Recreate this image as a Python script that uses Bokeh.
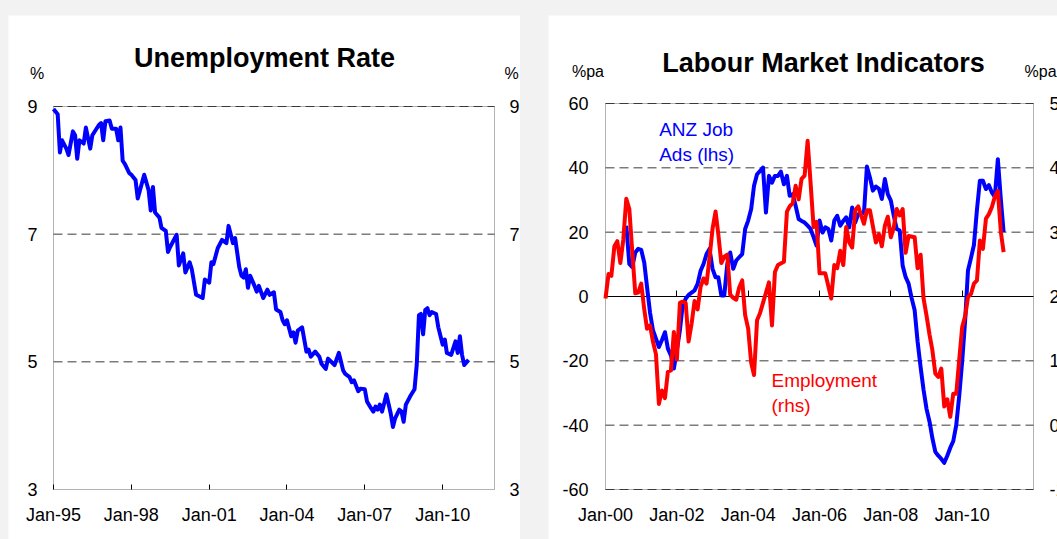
import pandas as pd
from bokeh.plotting import figure
from bokeh.layouts import row
from bokeh.models import (LinearAxis, DatetimeAxis, Range1d, FixedTicker, Label, BoxAnnotation,
                          DatetimeTickFormatter, CustomJSTickFormatter, ColumnDataSource)
from bokeh.embed import file_html
from bokeh.resources import INLINE

# ---------------- data ----------------
unemp_dates = [
    "1995-01", "1995-03", "1995-04", "1995-05", "1995-07", "1995-08", "1995-10", "1995-11", "1995-12",
    "1996-01", "1996-03", "1996-04", "1996-06", "1996-07", "1996-10", "1996-11", "1996-12",
    "1997-01", "1997-03", "1997-04", "1997-06", "1997-07", "1997-08", "1997-09", "1997-10", "1997-12",
    "1998-01", "1998-03", "1998-04", "1998-07", "1998-09", "1998-10", "1998-11", "1998-12",
    "1999-02", "1999-03", "1999-05", "1999-06", "1999-07", "1999-10", "1999-11",
    "2000-01", "2000-02", "2000-04", "2000-05", "2000-07", "2000-10", "2000-11",
    "2001-01", "2001-02", "2001-03", "2001-05", "2001-07", "2001-09", "2001-10", "2001-12",
    "2002-01", "2002-03", "2002-04", "2002-05", "2002-06", "2002-07", "2002-08", "2002-10", "2002-11", "2002-12",
    "2003-02", "2003-04", "2003-05", "2003-07", "2003-08", "2003-10", "2003-11", "2003-12",
    "2004-01", "2004-03", "2004-04", "2004-05", "2004-06", "2004-08", "2004-10", "2004-11", "2004-12",
    "2005-02", "2005-04", "2005-05", "2005-07", "2005-08", "2005-11",
    "2006-01", "2006-03", "2006-04", "2006-06", "2006-07", "2006-08", "2006-10", "2006-11",
    "2007-01", "2007-02", "2007-04", "2007-05", "2007-06", "2007-07", "2007-08", "2007-09", "2007-11",
    "2008-01", "2008-02", "2008-03", "2008-05", "2008-06", "2008-07", "2008-08", "2008-10", "2008-12",
    "2009-01", "2009-02", "2009-03", "2009-04", "2009-05", "2009-06", "2009-07", "2009-08", "2009-10", "2009-11",
    "2010-01", "2010-02", "2010-03", "2010-05", "2010-07", "2010-08", "2010-09", "2010-10", "2010-11",
    "2011-01",
]
unemp_rate = [
    8.96, 8.88, 8.28, 8.47, 8.34, 8.24, 8.61, 8.55, 8.18,
    8.47, 8.42, 8.67, 8.34, 8.55, 8.71, 8.74, 8.47,
    8.77, 8.78, 8.65, 8.65, 8.47, 8.67, 8.15, 8.10, 7.96,
    7.93, 7.85, 7.56, 7.93, 7.69, 7.37, 7.74, 7.34,
    7.26, 7.10, 7.05, 6.72, 6.80, 6.99, 6.51,
    6.70, 6.40, 6.56, 6.45, 6.05, 6.00, 6.29,
    6.24, 6.56, 6.53, 6.78, 6.91, 6.86, 7.13, 6.86,
    6.94, 6.48, 6.35, 6.32, 6.45, 6.16, 6.35, 6.19, 6.10, 6.19,
    6.00, 6.13, 6.05, 6.09, 5.82, 5.78, 5.65, 5.59,
    5.65, 5.40, 5.46, 5.30, 5.49, 5.54, 5.16, 5.19, 5.08,
    5.16, 5.08, 4.97, 4.89, 5.05, 4.95,
    5.14, 4.87, 4.81, 4.76, 4.68, 4.71, 4.54, 4.58,
    4.57, 4.38, 4.27, 4.22, 4.30, 4.25, 4.33, 4.22, 4.49,
    4.19, 3.98, 4.11, 4.25, 4.22, 4.06, 4.33, 4.46, 4.57,
    4.95, 5.73, 5.75, 5.43, 5.81, 5.84, 5.73, 5.78, 5.75, 5.54,
    5.27, 5.35, 5.14, 5.11, 5.32, 5.14, 5.40, 5.11, 4.95,
    5.03,
]

ads_dates = [
    "2000-08", "2000-09", "2000-10", "2000-11", "2000-12",
    "2001-01", "2001-02", "2001-03", "2001-04", "2001-05", "2001-06", "2001-07", "2001-08", "2001-09", "2001-10", "2001-11", "2001-12",
    "2002-01", "2002-02", "2002-03", "2002-04", "2002-05", "2002-06", "2002-07", "2002-08", "2002-09", "2002-10", "2002-11", "2002-12",
    "2003-01", "2003-02", "2003-03", "2003-04", "2003-05", "2003-06", "2003-07", "2003-08", "2003-09", "2003-10", "2003-11", "2003-12",
    "2004-01", "2004-02", "2004-03", "2004-04", "2004-05", "2004-06", "2004-07", "2004-08", "2004-09", "2004-10", "2004-11", "2004-12",
    "2005-01", "2005-02", "2005-03", "2005-04", "2005-05", "2005-06", "2005-07", "2005-08", "2005-09", "2005-10", "2005-11", "2005-12",
    "2006-01", "2006-02", "2006-03", "2006-04", "2006-05", "2006-06", "2006-07", "2006-08", "2006-09", "2006-10", "2006-11", "2006-12",
    "2007-01", "2007-02", "2007-03", "2007-04", "2007-05", "2007-06", "2007-07", "2007-08", "2007-09", "2007-10", "2007-11", "2007-12",
    "2008-01", "2008-02", "2008-03", "2008-04", "2008-05", "2008-06", "2008-07", "2008-08", "2008-09", "2008-10", "2008-11", "2008-12",
    "2009-01", "2009-02", "2009-03", "2009-04", "2009-05", "2009-06", "2009-07", "2009-08", "2009-09", "2009-10", "2009-11", "2009-12",
    "2010-01", "2010-02", "2010-03", "2010-04", "2010-05", "2010-06", "2010-07", "2010-08", "2010-09", "2010-10", "2010-11", "2010-12",
    "2011-01", "2011-02", "2011-03",
]
ads_growth = [
    22.0, 10.1, 9.1, 13.7, 14.8,
    14.5, 10.5, 3.0, -5.0, -10.5, -13.1, -15.7, -13.5, -11.1, -16.2, -18.3, -22.4,
    -16.7, -10.5, -2.8, -0.7, 0.5, 1.2, 1.9, 3.9, 8.0, 10.1, 13.2, 14.8,
    8.6, 6.0, 6.0, 0.3, 0.3, 10.0, 13.7, 8.6, 11.2, 12.2, 13.2, 21.0,
    23.6, 27.2, 34.4, 38.0, 39.0, 40.1, 26.1, 37.5, 35.4, 37.5, 37.5, 38.8,
    34.9, 37.5, 31.3, 31.8, 28.2, 24.1, 23.5, 23.0, 22.0, 21.0, 18.5, 15.8,
    23.6, 19.9, 21.5, 21.0, 17.4, 23.6, 25.1, 22.0, 23.5, 24.6, 21.5, 27.7,
    23.0, 25.6, 25.6, 26.0, 40.4, 37.0, 32.9, 34.2, 33.5, 30.3, 36.5, 31.8,
    29.8, 25.0, 21.0, 20.5, 9.6, 6.0, 4.0, -0.5, -4.3, -14.0, -22.0, -29.0,
    -35.0, -39.0, -44.0, -48.3, -49.5, -50.5, -51.7, -49.5, -47.0, -45.0, -40.0, -31.0,
    -20.0, -7.0, 8.1, 12.0, 16.0, 27.0, 36.0, 36.0, 33.4, 34.6, 32.3, 31.0,
    42.7, 30.0, 20.0,
]

emp_dates = [
    "2000-01", "2000-02", "2000-03", "2000-04", "2000-05", "2000-06", "2000-07", "2000-08", "2000-09", "2000-10", "2000-11", "2000-12",
    "2001-01", "2001-02", "2001-03", "2001-04", "2001-05", "2001-06", "2001-07", "2001-08", "2001-09", "2001-10", "2001-11", "2001-12",
    "2002-01", "2002-02", "2002-03", "2002-04", "2002-05", "2002-06", "2002-07", "2002-08", "2002-09", "2002-10", "2002-11", "2002-12",
    "2003-01", "2003-02", "2003-03", "2003-04", "2003-05", "2003-06", "2003-07", "2003-08", "2003-09", "2003-10", "2003-11", "2003-12",
    "2004-01", "2004-02", "2004-03", "2004-04", "2004-05", "2004-06", "2004-08", "2004-09", "2004-10", "2004-11",
    "2005-01", "2005-02", "2005-03", "2005-04", "2005-05", "2005-06", "2005-07", "2005-08", "2005-09", "2005-10", "2005-11", "2005-12",
    "2006-01", "2006-03", "2006-05", "2006-06", "2006-07", "2006-08", "2006-09", "2006-10", "2006-11", "2006-12",
    "2007-01", "2007-02", "2007-04", "2007-05", "2007-06", "2007-08", "2007-09", "2007-10", "2007-11", "2007-12",
    "2008-01", "2008-02", "2008-03", "2008-04", "2008-05", "2008-06", "2008-07", "2008-09", "2008-10", "2008-11", "2008-12",
    "2009-01", "2009-02", "2009-03", "2009-04", "2009-05", "2009-06", "2009-07", "2009-08", "2009-09", "2009-10", "2009-11", "2009-12",
    "2010-01", "2010-02", "2010-03", "2010-04", "2010-05", "2010-06", "2010-07", "2010-08", "2010-09", "2010-10", "2010-11", "2010-12",
    "2011-01", "2011-02", "2011-03",
]
emp_growth = [
    1.97, 2.35, 2.32, 2.78, 2.86, 2.52, 2.88, 3.52, 3.36, 2.70, 2.05, 2.06,
    2.20, 1.80, 1.50, 1.55, 1.30, 1.10, 0.33, 0.54, 0.42, 0.83, 0.85, 1.45,
    1.02, 1.90, 1.92, 1.90, 1.30, 1.58, 1.93, 1.80, 2.15, 2.28, 2.20, 2.60,
    3.05, 3.32, 2.97, 2.52, 2.62, 2.65, 2.03, 1.98, 1.95, 2.14, 2.25, 1.71,
    1.50, 0.97, 0.78, 1.63, 1.74, 1.90, 2.22, 1.55, 2.38, 2.49,
    2.54, 3.32, 3.40, 3.45, 3.72, 3.51, 3.83, 3.88, 4.42, 3.77, 3.08, 3.16,
    2.36, 2.36, 1.97, 2.49, 2.44, 2.71, 2.49, 3.08, 2.84, 2.76,
    3.34, 3.40, 3.13, 3.34, 3.34, 2.84, 2.97, 2.78, 3.10, 3.24,
    2.92, 3.08, 3.36, 3.26, 3.36, 2.68, 2.94, 2.92, 2.44, 2.65, 1.97,
    1.70, 1.40, 1.17, 0.80, 0.75, 0.88, 0.29, 0.40, 0.13, 0.49, 0.49, 1.01,
    1.53, 1.70, 1.99, 2.04, 2.20, 2.25, 2.87, 2.74, 3.21, 3.28, 3.39, 3.55,
    3.64, 3.00, 2.69,
]

left_x_ticks = ["1995-01", "1998-01", "2001-01", "2004-01", "2007-01", "2010-01"]
right_x_ticks = ["2000-01", "2002-01", "2004-01", "2006-01", "2008-01", "2010-01"]
unemp_y_ticks = [3, 5, 7, 9]
lhs_ticks = [-60, -40, -20, 0, 20, 40, 60]
rhs_ticks = [-1, 0, 1, 2, 3, 4, 5]

# ---------------- styling helpers ----------------
FONT = "Liberation Sans"
BLUE = "#0000ff"
RED = "#ff0000"
GRID = "#3a3a3a"
LW = 4


def ms(s):
    return pd.Timestamp(s).timestamp() * 1000.0


def date_fmt():
    f = "%b-%y"
    return DatetimeTickFormatter(microseconds=f, milliseconds=f, seconds=f, minsec=f,
                                 minutes=f, hourmin=f, hours=f, days=f, months=f, years=f)


def int_fmt():
    return CustomJSTickFormatter(code="return tick.toFixed(0)")


def style_axis(ax, standoff, tick_in=0):
    ax.major_label_text_font = FONT
    ax.major_label_text_font_size = "18px"
    ax.major_label_text_color = "black"
    ax.major_label_standoff = standoff
    ax.minor_tick_line_color = None
    ax.major_tick_out = 0
    ax.major_tick_in = tick_in
    ax.major_tick_line_color = "black" if tick_in else None
    ax.axis_line_color = None


class Panel:
    """Maps pixel positions inside a figure whose frame fills the whole canvas."""

    def __init__(self, W, H, box_l, box_t, box_w, box_h, x0, x1, y0, y1):
        self.W, self.H = W, H
        self.px_x = (x1 - x0) / box_w
        self.px_y = (y1 - y0) / box_h
        self.xr = (x0 - box_l * self.px_x, x0 + (W - box_l) * self.px_x)
        self.yr = (y1 - (H - box_t) * self.px_y, y1 + box_t * self.px_y)
        self.box_t, self.box_h = box_t, box_h

    def yrange_for(self, v0, v1):
        per = (v1 - v0) / self.box_h
        return (v1 - (self.H - self.box_t) * per, v1 + self.box_t * per)

    def x(self, fx):
        return self.xr[0] + fx * self.px_x

    def y(self, fy):
        return self.yr[1] - fy * self.px_y


def make_fig(pn):
    p = figure(width=pn.W, height=pn.H, frame_width=pn.W, frame_height=pn.H,
               min_border=0, x_axis_type="datetime",
               x_range=Range1d(*pn.xr), y_range=Range1d(*pn.yr),
               x_axis_location=None, y_axis_location=None,
               output_backend="svg", toolbar_location=None,
               background_fill_color="white", border_fill_color="white",
               outline_line_color=None)
    p.xgrid.visible = False
    p.ygrid.visible = False
    return p


def add_text(p, pn, text, fx, fy, size, color="black", bold=False, align="left"):
    # fy is the vertical middle of the text, in pixels from the figure top
    p.add_layout(Label(x=pn.x(fx), y=pn.y(fy), text=text,
                       text_font=FONT, text_font_size=size, text_color=color,
                       text_font_style="bold" if bold else "normal",
                       text_align=align, text_baseline="middle"))


# ---------------- left panel ----------------
L0, L1 = ms("1995-01-01"), ms("2012-01-01")
pl = Panel(W=512, H=524, box_l=45, box_t=91, box_w=441, box_h=383,
           x0=L0, x1=L1, y0=unemp_y_ticks[0], y1=unemp_y_ticks[-1])
p1 = make_fig(pl)
p1.margin = (15, 0, 0, 8)

p1.add_layout(BoxAnnotation(left=L0, right=L1, bottom=unemp_y_ticks[0], top=unemp_y_ticks[-1],
                            fill_color=None, line_color="black", line_width=1, level="underlay"))
g1 = unemp_y_ticks[1:]
p1.segment(x0=[L0] * len(g1), x1=[L1] * len(g1), y0=g1, y1=g1,
           line_color=GRID, line_width=1, line_dash="9 5")

src1 = ColumnDataSource(dict(x=pd.to_datetime(unemp_dates), y=unemp_rate))
p1.line("x", "y", source=src1, line_color=BLUE, line_width=LW, line_join="round")

xa = DatetimeAxis(fixed_location=unemp_y_ticks[0], bounds=(L0, L1),
                  ticker=FixedTicker(ticks=[ms(t) for t in left_x_ticks]), formatter=date_fmt())
style_axis(xa, 15, tick_in=5)
p1.add_layout(xa, "below")

ya = LinearAxis(fixed_location=L0, ticker=FixedTicker(ticks=unemp_y_ticks), formatter=int_fmt())
style_axis(ya, 16)
p1.add_layout(ya, "left")

ya_r = LinearAxis(fixed_location=L1, ticker=FixedTicker(ticks=unemp_y_ticks), formatter=int_fmt())
style_axis(ya_r, 15)
p1.add_layout(ya_r, "right")

add_text(p1, pl, "Unemployment Rate", 256, 42, "27px", bold=True, align="center")
add_text(p1, pl, "%", 28.5, 58, "16px", align="center")
add_text(p1, pl, "%", 503, 58, "16px", align="center")

# ---------------- right panel ----------------
R0, R1 = ms("2000-01-01"), ms("2012-01-01")
pr = Panel(W=509, H=524, box_l=57, box_t=88, box_w=428, box_h=386,
           x0=R0, x1=R1, y0=lhs_ticks[0], y1=lhs_ticks[-1])
p2 = make_fig(pr)
p2.margin = (15, 0, 0, 0)
p2.extra_y_ranges = {"rhs": Range1d(*pr.yrange_for(rhs_ticks[0], rhs_ticks[-1]))}

p2.add_layout(BoxAnnotation(left=R0, right=R1, bottom=lhs_ticks[0], top=lhs_ticks[-1],
                            fill_color=None, line_color="black", line_width=1, level="underlay"))
g2 = [t for t in lhs_ticks if t != 0]
p2.segment(x0=[R0] * len(g2), x1=[R1] * len(g2), y0=g2, y1=g2,
           line_color=GRID, line_width=1, line_dash="9 5")

# zero line with inward ticks
zero_ax = DatetimeAxis(fixed_location=0, bounds=(R0, R1),
                       ticker=FixedTicker(ticks=[ms(t) for t in right_x_ticks]),
                       formatter=CustomJSTickFormatter(code="return ''"))
style_axis(zero_ax, 0, tick_in=6)
zero_ax.axis_line_color = "black"
zero_ax.major_label_text_font_size = "1px"
zero_ax.level = "underlay"
p2.add_layout(zero_ax, "below")

src_ads = ColumnDataSource(dict(x=pd.to_datetime(ads_dates), y=ads_growth))
src_emp = ColumnDataSource(dict(x=pd.to_datetime(emp_dates), y=emp_growth))
p2.line("x", "y", source=src_ads, line_color=BLUE, line_width=LW, line_join="round")
p2.line("x", "y", source=src_emp, line_color=RED, line_width=LW, line_join="round",
        y_range_name="rhs")

xb = DatetimeAxis(fixed_location=lhs_ticks[0], bounds=(R0, R1),
                  ticker=FixedTicker(ticks=[ms(t) for t in right_x_ticks]), formatter=date_fmt())
style_axis(xb, 15)
p2.add_layout(xb, "below")

yb = LinearAxis(fixed_location=R0, ticker=FixedTicker(ticks=lhs_ticks), formatter=int_fmt())
style_axis(yb, 17)
p2.add_layout(yb, "left")

yb_r = LinearAxis(y_range_name="rhs", fixed_location=R1, ticker=FixedTicker(ticks=rhs_ticks),
                  formatter=int_fmt())
style_axis(yb_r, 16)
p2.add_layout(yb_r, "right")

add_text(p2, pr, "Labour Market Indicators", 275, 47.7, "27px", bold=True, align="center")
add_text(p2, pr, "%pa", 39.5, 55.8, "16px", align="center")
add_text(p2, pr, "%pa", 476, 55.8, "16px", align="left")
add_text(p2, pr, "ANZ Job", 110.7, 114, "19px", color=BLUE)
add_text(p2, pr, "Ads  (lhs)", 110.7, 139, "19px", color=BLUE)
add_text(p2, pr, "Employment", 223, 364.5, "19px", color=RED)
add_text(p2, pr, "(rhs)", 223, 390, "19px", color=RED)

layout = row(p1, p2, spacing=28, styles={"background-color": "#f2f2f2"})

open("out.html", "w").write(file_html(layout, INLINE))
